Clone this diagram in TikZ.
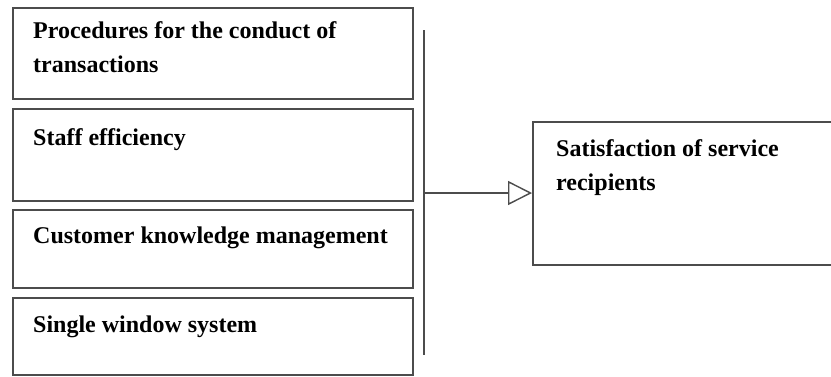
\documentclass[tikz,border=0pt]{standalone}
\usepackage{fontspec}
\setmainfont{Liberation Serif}
\usetikzlibrary{arrows.meta}
\begin{document}
\begin{tikzpicture}[x=1pt,y=-1pt,
  boxline/.style={draw=black!70,line width=1.6pt},
  lbl/.style={anchor=base west,inner sep=0pt,font=\fontsize{24}{34}\selectfont\bfseries,align=left},
  conn/.style={draw=black!70,line width=1.4pt}]
\useasboundingbox (0,0) rectangle (831,376);
\clip (0,0) rectangle (831,376);
\fill[white] (0,0) rectangle (831,376);
\node[boxline,minimum width=400pt,minimum height=91pt,anchor=north west,inner sep=0pt] (b1) at (12,7) {};
\node[boxline,minimum width=400pt,minimum height=92pt,anchor=north west,inner sep=0pt] (b2) at (12,108) {};
\node[boxline,minimum width=400pt,minimum height=78pt,anchor=north west,inner sep=0pt] (b3) at (12,209) {};
\node[boxline,minimum width=400pt,minimum height=77pt,anchor=north west,inner sep=0pt] (b4) at (12,297) {};
\node[boxline,minimum width=310pt,minimum height=143pt,anchor=north west,inner sep=0pt] (r) at (532,121) {};
\node[lbl] (t1) at (33,72) {Procedures for the conduct of\\transactions};
\node[lbl] (t2) at (33,145) {Staff efficiency};
\node[lbl] (t3) at (33,243) {Customer knowledge management};
\node[lbl] (t4) at (33,332) {Single window system};
\node[lbl] (t5) at (556,190) {Satisfaction of service\\recipients};
\coordinate (vt) at (424,30);
\coordinate (vb) at (424,355);
\coordinate (va) at (424,193);
\draw[conn] (vt) -- (vb);
\draw[conn,-{Triangle[open,length=24pt,width=24pt,line width=1.4pt]}] (va) -- (va -| r.west);
\end{tikzpicture}
\end{document}
